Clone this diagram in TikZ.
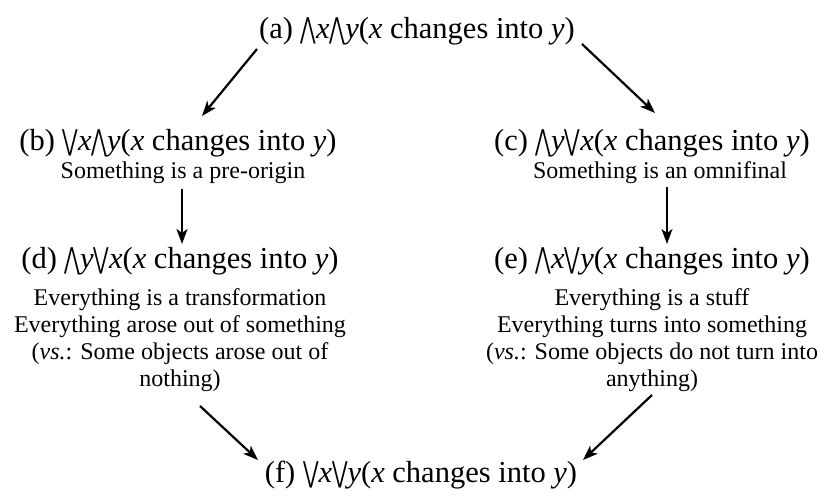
\documentclass[tikz,border=0pt]{standalone}
\usepackage{fontspec}
\setmainfont{Liberation Serif}
\newfontfamily\qfont{DejaVu Sans}
\usetikzlibrary{arrows.meta}
\newcommand{\Qa}{{\qfont\scalebox{0.62}[0.95]{⋀}}}
\newcommand{\Qe}{{\qfont\scalebox{0.62}[0.95]{⋁}}}
\begin{document}
\begin{tikzpicture}[x=1pt,y=-1pt,
  mainline/.style={inner sep=0pt,font=\fontsize{30.5}{34}\selectfont},
  subline/.style={inner sep=0pt,font=\fontsize{24}{27}\selectfont,align=center},
  arr/.style={line width=2.2pt,-{Stealth[length=15pt,width=11pt,inset=4pt]}}]
\useasboundingbox (0,0) rectangle (836,500);
\node[mainline] (a) at (417,31) {(a) \Qa\textit{x}\Qa\textit{y}(\textit{x} changes into \textit{y})};
\node[mainline] (b) at (178,143) {(b) \Qe\textit{x}\Qa\textit{y}(\textit{x} changes into \textit{y})};
\node[subline] (bsub) at (183,173) {Something is a pre-origin};
\node[mainline] (c) at (652,143) {(c) \Qa\textit{y}\Qe\textit{x}(\textit{x} changes into \textit{y})};
\node[subline] (csub) at (660,173) {Something is an omnifinal};
\node[mainline] (d) at (180,261) {(d) \Qa\textit{y}\Qe\textit{x}(\textit{x} changes into \textit{y})};
\node[subline,anchor=north] (dsub) at (180,288) {Everything is a transformation\\Everything arose out of something\\(\textit{vs.}: Some objects arose out of\\nothing)};
\node[mainline] (e) at (652,261) {(e) \Qa\textit{x}\Qe\textit{y}(\textit{x} changes into \textit{y})};
\node[subline,anchor=north] (esub) at (652,288) {Everything is a stuff\\Everything turns into something\\(\textit{vs.}: Some objects do not turn into\\anything)};
\node[mainline] (f) at (421,475) {(f) \Qe\textit{x}\Qe\textit{y}(\textit{x} changes into \textit{y})};
\draw[arr] ([shift={(-160,18)}]a.center) -- ([shift={(24,-27)}]b.center);
\draw[arr] ([shift={(165,13)}]a.center) -- ([shift={(3,-30)}]c.center);
\draw[arr] ([shift={(-1,16)}]bsub.center) -- ([shift={(2,-17)}]d.center);
\draw[arr] ([shift={(7,14)}]csub.center) -- ([shift={(15,-17)}]e.center);
\draw[arr] ([shift={(20,118)}]dsub.north) -- ([shift={(-163,-15)}]f.center);
\draw[arr] ([shift={(0,107)}]esub.north) -- ([shift={(162,-15)}]f.center);
\end{tikzpicture}
\end{document}
